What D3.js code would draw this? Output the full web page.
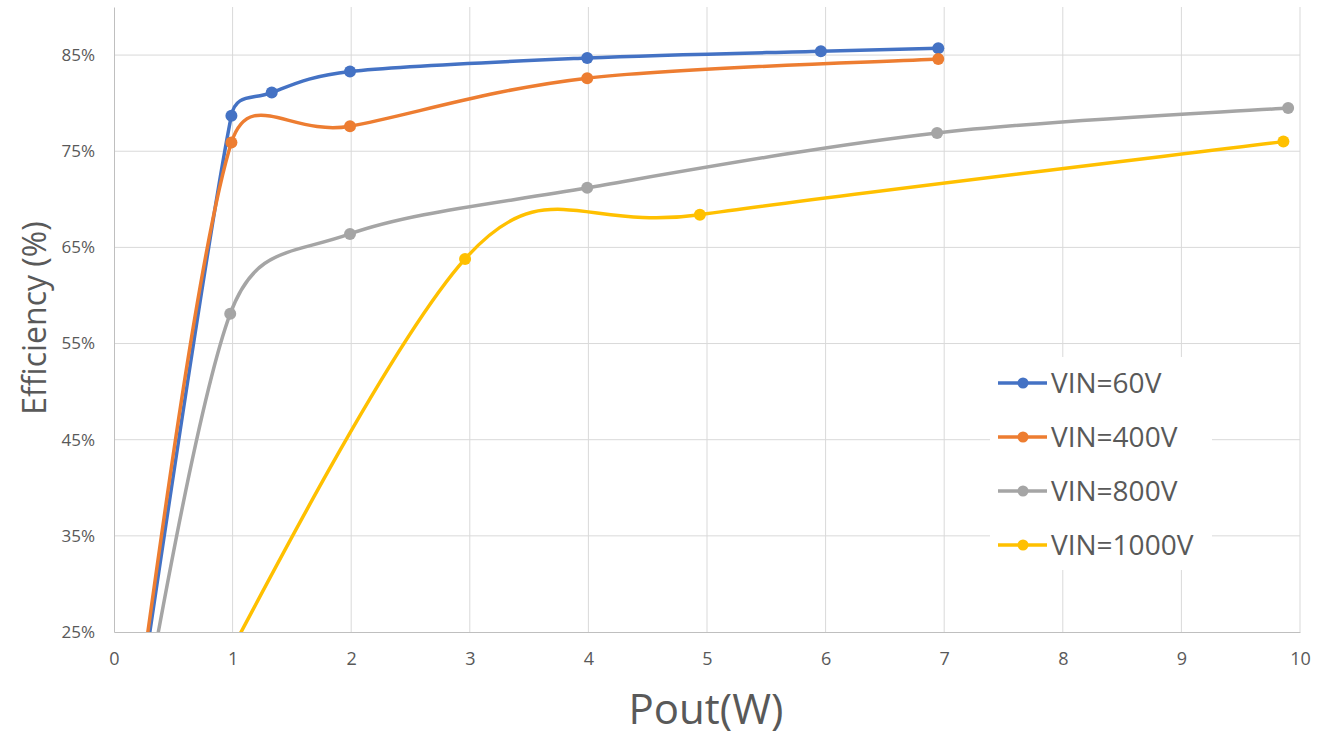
<!DOCTYPE html>
<html>
<head>
<meta charset="utf-8">
<script src="https://cdn.jsdelivr.net/npm/d3@7"></script>
<style>
body {
  margin: 0;
  background: #fff;
}
* {
  font-family: 'Open Sans', sans-serif;
}
</style>
</head>
<body>
<svg id="chart"></svg>
<script>
// series data: [Pout (W), efficiency (%)]
const seriesNames = ['VIN=60V', 'VIN=400V', 'VIN=800V', 'VIN=1000V'];
const vin60 = [[0, 0], [0.99, 78.7], [1.33, 81.1], [1.99, 83.3], [3.99, 84.7], [5.96, 85.4], [6.95, 85.7]];
const vin400 = [[0, 0], [0.99, 75.9], [1.99, 77.6], [3.99, 82.6], [6.95, 84.6]];
const vin800 = [[0, 0], [0.98, 58.1], [1.99, 66.4], [3.99, 71.2], [6.94, 76.9], [9.9, 79.5]];
const vin1000 = [[0, 0], [2.96, 63.8], [4.94, 68.4], [9.86, 76.0]];
const seriesColors = ['#4472C4', '#ED7D31', '#A5A5A5', '#FFC000'];
const xTicks = [0, 1, 2, 3, 4, 5, 6, 7, 8, 9, 10];
const yTicks = [25, 35, 45, 55, 65, 75, 85];

const series = [vin60, vin400, vin800, vin1000];

const width = 1321, height = 736;
const margin = { top: 7, right: 21, bottom: 104, left: 114 };

// spreadsheet-style smoothed line: bezier arms of 1/6 of the neighbour span,
// capped at half of the segment length
function SmoothCurve(context) {
  this._context = context;
}
SmoothCurve.prototype = {
  areaStart() {},
  areaEnd() {},
  lineStart() { this._pts = []; },
  point(x, y) { this._pts.push([+x, +y]); },
  lineEnd() {
    const p = this._pts, c = this._context, n = p.length;
    if (!n) return;
    c.moveTo(p[0][0], p[0][1]);
    const dist = (a, b) => Math.hypot(b[0] - a[0], b[1] - a[1]);
    for (let i = 0; i < n - 1; i++) {
      const p0 = p[Math.max(i - 1, 0)], p1 = p[i], p2 = p[i + 1], p3 = p[Math.min(i + 2, n - 1)];
      const d12 = dist(p1, p2), d02 = dist(p0, p2), d13 = dist(p1, p3);
      const f1 = d02 / 6 < d12 / 2 ? 1 / 6 : d12 / 2 / d02;
      const f2 = d13 / 6 < d12 / 2 ? 1 / 6 : d12 / 2 / d13;
      c.bezierCurveTo(
        p1[0] + f1 * (p2[0] - p0[0]), p1[1] + f1 * (p2[1] - p0[1]),
        p2[0] - f2 * (p3[0] - p1[0]), p2[1] - f2 * (p3[1] - p1[1]),
        p2[0], p2[1]);
    }
  }
};
const curveSmooth = context => new SmoothCurve(context);

const svg = d3.select('#chart').attr('width', width).attr('height', height);

const x = d3.scaleLinear().domain([0, 10]).range([margin.left, width - margin.right]);
const y = d3.scaleLinear().domain([25, 90]).range([height - margin.bottom, margin.top]);

// gridlines
svg.append('g')
  .selectAll('line')
  .data(xTicks.slice(1))
  .enter()
  .append('line')
  .attr('x1', d => x(d)).attr('x2', d => x(d))
  .attr('y1', y(90)).attr('y2', y(25))
  .style('stroke', '#d9d9d9');

svg.append('g')
  .selectAll('line')
  .data(yTicks.slice(1))
  .enter()
  .append('line')
  .attr('x1', x(0)).attr('x2', x(10))
  .attr('y1', d => y(d)).attr('y2', d => y(d))
  .style('stroke', '#d9d9d9');

// axes
const xAxis = svg.append('g')
  .attr('transform', `translate(0,${y(25)})`)
  .call(d3.axisBottom(x).tickValues(xTicks).tickSize(0).tickPadding(20));
const yAxis = svg.append('g')
  .attr('transform', `translate(${x(0)},0)`)
  .call(d3.axisLeft(y).tickValues(yTicks).tickSize(0).tickPadding(19).tickFormat(d => d + '%'));

xAxis.select('.domain').style('stroke', '#bfbfbf');
yAxis.select('.domain').style('stroke', '#bfbfbf');
xAxis.selectAll('text').style('font-size', '18px').style('fill', '#595959');
yAxis.selectAll('text').style('font-size', '17px').style('fill', '#595959');

// axis titles
svg.append('text')
  .attr('x', 706).attr('y', 724)
  .attr('text-anchor', 'middle')
  .style('font-size', '42px')
  .style('fill', '#595959')
  .text('Pout(W)');

svg.append('text')
  .attr('transform', 'translate(46,318) rotate(-90)')
  .attr('text-anchor', 'middle')
  .style('font-size', '32px')
  .style('fill', '#595959')
  .text('Efficiency (%)');

// plot clip
svg.append('clipPath').attr('id', 'plot-clip')
  .append('rect')
  .attr('x', x(0)).attr('y', y(90))
  .attr('width', x(10) - x(0)).attr('height', y(25) - y(90));

const line = d3.line()
  .x(d => x(d[0]))
  .y(d => y(d[1]))
  .curve(curveSmooth);

const plot = svg.append('g').attr('clip-path', 'url(#plot-clip)');

for (let i = 0; i < series.length; i++) {
  plot.append('path')
    .datum(series[i])
    .attr('d', line)
    .style('fill', 'none')
    .style('stroke', seriesColors[i])
    .style('stroke-width', 3.5);

  plot.selectAll('.pt' + i)
    .data(series[i])
    .enter()
    .append('circle')
    .attr('cx', d => x(d[0]))
    .attr('cy', d => y(d[1]))
    .attr('r', 6)
    .attr('fill', seriesColors[i]);
}

// legend
const legend = svg.append('g');
legend.append('rect')
  .attr('x', 990).attr('y', 357)
  .attr('width', 222).attr('height', 213)
  .attr('fill', '#fff');

seriesNames.forEach((name, i) => {
  const ly = 383 + i * 54;
  legend.append('line')
    .attr('x1', 998).attr('x2', 1047)
    .attr('y1', ly).attr('y2', ly)
    .style('stroke', seriesColors[i])
    .style('stroke-width', 3.5);
  legend.append('circle')
    .attr('cx', 1023).attr('cy', ly)
    .attr('r', 5.5)
    .attr('fill', seriesColors[i]);
  legend.append('text')
    .attr('x', 1051).attr('y', ly)
    .attr('dy', '0.36em')
    .style('font-size', '28px')
    .style('fill', '#595959')
    .text(name);
});
</script>
</body>
</html>
